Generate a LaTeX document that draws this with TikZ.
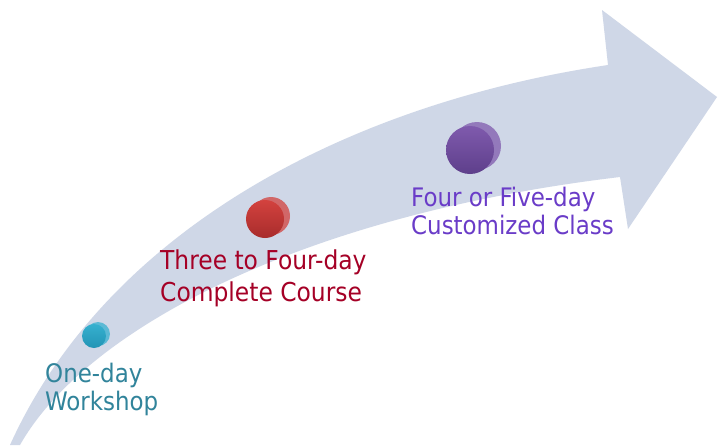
\documentclass[tikz,border=0pt]{standalone}
\usepackage{fontspec}
\newfontfamily\labfont{DejaVu Sans Condensed}
\definecolor{band}{HTML}{CFD7E7}
\definecolor{tealtxt}{HTML}{31849B}
\definecolor{redtxt}{HTML}{A50026}
\definecolor{purtxt}{HTML}{6A3CC8}
\definecolor{cyanball}{HTML}{36B0CF}
\definecolor{cyandark}{HTML}{2294B5}
\definecolor{redball}{HTML}{D3423E}
\definecolor{reddark}{HTML}{A82C2C}
\definecolor{purball}{HTML}{7F5AAD}
\definecolor{purdark}{HTML}{5E3F8B}
\tikzset{
  ballmain/.style={circle, inner sep=0pt},
  ballback/.style={circle, inner sep=0pt, opacity=0.75},
  lab/.style={inner sep=0pt, anchor=north west, align=left},
}
\begin{document}
\begin{tikzpicture}[x=1pt,y=-1pt]
\useasboundingbox (0,0) rectangle (718,445);
\fill[white] (0,0) rectangle (718,445);
% curved arrow
\fill[band] (10,445) .. controls (105,235) and (340,105) .. (608,65)
  -- (602,10) -- (717,97) -- (628,229) -- (620,177)
  .. controls (300,215) and (85,330) .. (20,445) -- cycle;
% balls (a lighter offset disc behind a shaded main disc)
\node[ballback, minimum size=24pt, fill=cyanball] (b1b) at (98,334) {};
\node[ballmain, minimum size=24pt, top color=cyanball, bottom color=cyandark] (b1) at (94,336) {};
\node[ballback, minimum size=38pt, fill=redball] (b2b) at (271,216) {};
\node[ballmain, minimum size=38pt, top color=redball, bottom color=reddark] (b2) at (265,219) {};
\node[ballback, minimum size=48pt, fill=purball] (b3b) at (477,146) {};
\node[ballmain, minimum size=48pt, top color=purball, bottom color=purdark] (b3) at (470,150) {};
% labels
\node[lab, text=tealtxt, font=\labfont\fontsize{25.5}{28}\selectfont] (t1) at (45,363) {One-day\\Workshop};
\node[lab, text=redtxt, font=\labfont\fontsize{26}{32}\selectfont] (t2) at (160,250) {Three to Four-day\\Complete Course};
\node[lab, text=purtxt, font=\labfont\fontsize{25.5}{27.5}\selectfont] (t3) at (411,187) {Four or Five-day\\Customized Class};
\end{tikzpicture}
\end{document}
